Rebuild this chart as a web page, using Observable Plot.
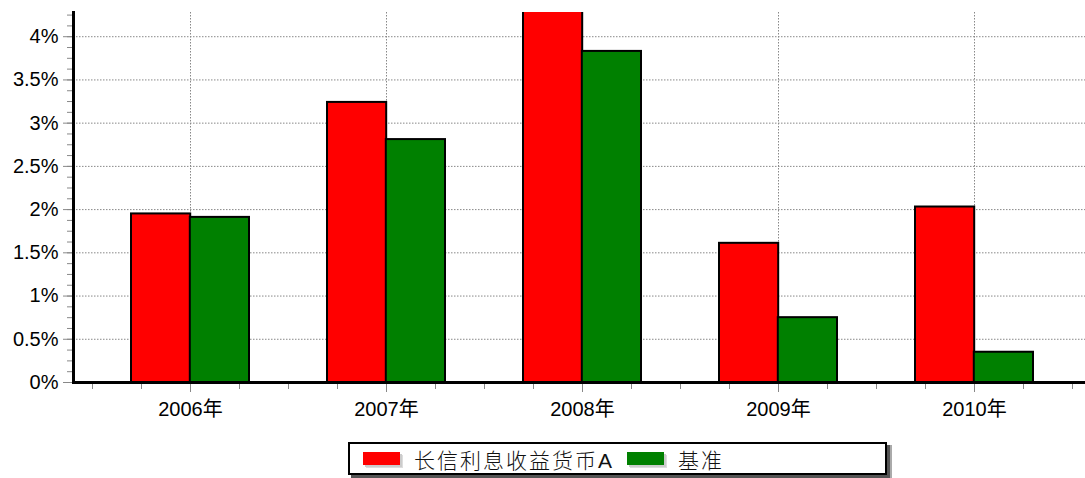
<!DOCTYPE html>
<html><head><meta charset="utf-8">
<script src="https://cdn.jsdelivr.net/npm/d3@7"></script>
<script src="https://cdn.jsdelivr.net/npm/@observablehq/plot@0.6"></script>
<style>
body{margin:0;background:#fff;font-family:"Liberation Sans",Arial,"Noto Sans CJK SC",sans-serif;width:1085px;height:478px;overflow:hidden;position:relative;}
#chart svg{display:block;}
#legend{position:absolute;left:348px;top:442px;width:535px;height:29px;border:2px solid #000;background:#fff;box-shadow:3px 3px 0 #555, 5px 3px 0 #aaa;display:flex;align-items:center;font-size:21px;font-family:"Liberation Sans","Noto Sans CJK SC",sans-serif;font-weight:300;color:#111;}
.item{display:flex;align-items:center;margin-left:13px;}
.sw{width:37px;height:13px;margin-right:14px;box-shadow:2px 2px 0 #ccc,3px 3px 0 #ddd;}
.lab{letter-spacing:2px;}
</style></head><body>
<div id="chart"></div>
<div id="legend"></div>
<script>
const years = ["2006年", "2007年", "2008年", "2009年", "2010年"];
const fundName = "长信利息收益货币A";
const benchName = "基准";
const fundValues = [1.95, 3.24, 4.3, 1.61, 2.03];
const benchValues = [1.91, 2.81, 3.83, 0.75, 0.35];
const seriesColors = ["#ff0000", "#008000"];
const yTicks = [0, 0.5, 1, 1.5, 2, 2.5, 3, 3.5, 4];

const fundRows = years.map((year, i) => ({year, series: fundName, value: fundValues[i]}));
const benchRows = years.map((year, i) => ({year, series: benchName, value: benchValues[i]}));

const W = 1085, H = 432;
const xRange = [92, 1072];
const step = (xRange[1] - xRange[0]) / years.length;
const half = step * 0.6 / 2;
const minorY = d3.range(0, 4.26, 0.125);
const grid = {stroke: "#888", strokeWidth: 1, strokeDasharray: "1.5,1.5"};

const minorX = [-2, -1, 1, 2].map(k =>
  Plot.axisX({tickSize: 7, dx: k * step / 4, tickFormat: () => "", stroke: "#888", label: null}));

const chart = Plot.plot({
  width: W, height: H,
  marginLeft: 73, marginRight: 0, marginTop: 12, marginBottom: 50,
  style: {fontFamily: "'Liberation Sans', Arial, 'Noto Sans CJK SC', sans-serif", color: "#000", background: "#fff"},
  x: {type: "band", domain: years, range: xRange, paddingInner: 0.4, paddingOuter: 0.2, label: null},
  y: {domain: [0, 4.28], label: null},
  marks: [
    Plot.ruleY(yTicks.filter(d => d > 0), grid),
    Plot.ruleX(years, {x: d => d, ...grid}),
    Plot.barY(fundRows, {x: "year", y: "value", fill: seriesColors[0], stroke: "#000", strokeWidth: 2, insetRight: half, clip: true}),
    Plot.barY(benchRows, {x: "year", y: "value", fill: seriesColors[1], stroke: "#000", strokeWidth: 2, insetLeft: half, clip: true}),
    Plot.axisY({ticks: minorY, tickSize: 6, tickFormat: () => "", stroke: "#888", label: null}),
    Plot.axisY({ticks: yTicks, tickSize: 10, tickPadding: 5, tickFormat: d => d + "%", stroke: "#888", fill: "#000", fontSize: 20, label: null}),
    ...minorX,
    Plot.axisX({tickSize: 10, tickPadding: 9, stroke: "#888", fill: "#000", fontSize: 20, label: null}),
    Plot.ruleY([0], {stroke: "#000", strokeWidth: 3}),
    Plot.frame({anchor: "left", stroke: "#000", strokeWidth: 3})
  ]
});
document.getElementById("chart").appendChild(chart);

const legend = document.getElementById("legend");
[[fundName, seriesColors[0]], [benchName, seriesColors[1]]].forEach(([name, color]) => {
  const item = document.createElement("div");
  item.className = "item";
  const sw = document.createElement("span");
  sw.className = "sw";
  sw.style.background = color;
  const lab = document.createElement("span");
  lab.className = "lab";
  lab.textContent = name;
  item.appendChild(sw);
  item.appendChild(lab);
  legend.appendChild(item);
});
</script>
</body></html>
